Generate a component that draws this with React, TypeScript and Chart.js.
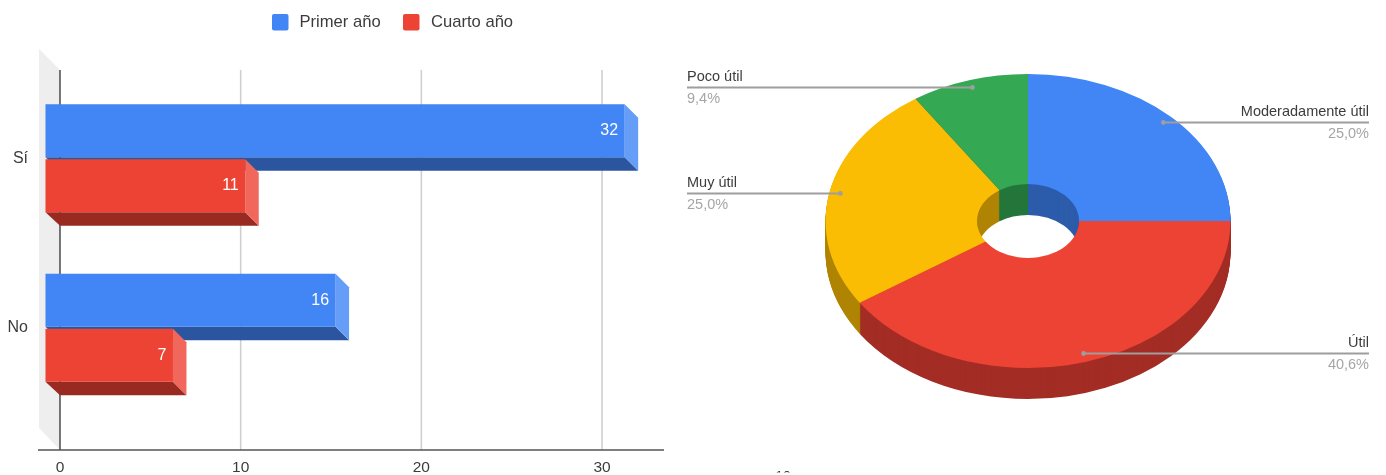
import React, { useEffect, useRef } from "react";
import { Chart, registerables } from "chart.js";

Chart.register(...registerables);

// ---- bar chart data
const answers = ["Sí", "No"];
const primerAno = [32, 16];
const cuartoAno = [11, 7];
const xTicks = [0, 10, 20, 30];

// ---- pie chart data
const usefulness = ["Moderadamente útil", "Útil", "Muy útil", "Poco útil"];
const usefulnessCounts = [8, 13, 8, 3];

const BLUE = "#4285F4";
const RED = "#EC4335";
const YELLOW = "#FBBC04";
const GREEN = "#34A853";
const pieColors = [BLUE, RED, YELLOW, GREEN];
const pieSideColors = ["#2C5CAA", "#A32D25", "#B08403", "#24763A"];
const barSide: Record<string, string> = { [BLUE]: "#669DF6", [RED]: "#F1675C" };
const barUnder: Record<string, string> = { [BLUE]: "#2B569F", [RED]: "#992A22" };

const FONT = "'Liberation Sans', Arial, sans-serif";
const TEXT = "#3c3c3c";
const DEPTH = 13.5;

const barDepthPlugin = {
  id: "barDepth",
  beforeDatasetsDraw(chart: any) {
    const { ctx, chartArea, scales } = chart;
    const x = scales.x;
    const zero = x.getPixelForValue(0);
    const top = 70;
    const bottom = 450;
    ctx.save();
    // side wall
    ctx.fillStyle = "#eeeeee";
    ctx.beginPath();
    ctx.moveTo(zero, top);
    ctx.lineTo(39, 49);
    ctx.lineTo(39, 428);
    ctx.lineTo(zero, bottom);
    ctx.closePath();
    ctx.fill();
    // grid lines
    xTicks.forEach((v) => {
      const px = x.getPixelForValue(v);
      ctx.strokeStyle = v === 0 ? "#555555" : "#cfcfcf";
      ctx.lineWidth = 1.6;
      ctx.beginPath();
      ctx.moveTo(px, top);
      ctx.lineTo(px, bottom);
      ctx.stroke();
    });
    // floor line
    ctx.strokeStyle = "#555555";
    ctx.lineWidth = 1.6;
    ctx.beginPath();
    ctx.moveTo(chartArea.left, bottom);
    ctx.lineTo(chartArea.right, bottom);
    ctx.stroke();
    ctx.restore();
  },
  beforeDatasetDraw() {
    return false;
  },
  afterDatasetsDraw(chart: any) {
    const { ctx } = chart;
    ctx.save();
    chart.data.datasets.forEach((ds: any, i: number) => {
      const color = ds.backgroundColor;
      chart.getDatasetMeta(i).data.forEach((el: any, j: number) => {
        const { x, y, base, height } = el.getProps(["x", "y", "base", "height"]);
        const t = y - height / 2;
        const b = y + height / 2;
        const l = base - DEPTH - 1;
        const r = x - DEPTH;
        // underside
        ctx.fillStyle = barUnder[color];
        ctx.beginPath();
        ctx.moveTo(l, b);
        ctx.lineTo(r, b);
        ctx.lineTo(x, b + DEPTH);
        ctx.lineTo(base, b + DEPTH);
        ctx.closePath();
        ctx.fill();
        // end
        ctx.fillStyle = barSide[color];
        ctx.beginPath();
        ctx.moveTo(r, t);
        ctx.lineTo(x, t + DEPTH);
        ctx.lineTo(x, b + DEPTH);
        ctx.lineTo(r, b);
        ctx.closePath();
        ctx.fill();
        // front
        ctx.fillStyle = color;
        ctx.fillRect(l, t, r - l, b - t);
        // value
        ctx.fillStyle = "#ffffff";
        ctx.font = `16px ${FONT}`;
        ctx.textAlign = "right";
        ctx.textBaseline = "middle";
        ctx.fillText(String(ds.data[j]), r - 6.5, y);
      });
    });
    // legend
    ctx.font = `16.6px ${FONT}`;
    ctx.textAlign = "left";
    ctx.textBaseline = "middle";
    const boxX = [272, 403];
    const textX = [299.5, 431];
    chart.data.datasets.forEach((ds: any, i: number) => {
      ctx.fillStyle = ds.backgroundColor;
      ctx.beginPath();
      ctx.roundRect(boxX[i], 14, 16.5, 16.5, 2);
      ctx.fill();
      ctx.fillStyle = TEXT;
      ctx.fillText(ds.label, textX[i], 22.5);
    });
    ctx.restore();
  },
};

const SQUASH = 147 / 202.5;
const PIE_DEPTH = 31;

const pie3dPlugin = {
  id: "pie3d",
  beforeDatasetDraw() {
    return false;
  },
  afterDatasetsDraw(chart: any) {
    const { ctx } = chart;
    const arcs = chart.getDatasetMeta(0).data;
    const drawLayer = (d: number, colors: string[]) => {
      arcs.forEach((arc: any, i: number) => {
        const p = arc.getProps(["x", "y", "startAngle", "endAngle", "innerRadius", "outerRadius"]);
        ctx.save();
        ctx.translate(p.x, p.y + d);
        ctx.scale(1, SQUASH);
        ctx.fillStyle = colors[i];
        ctx.beginPath();
        ctx.arc(0, 0, p.outerRadius, p.startAngle, p.endAngle);
        ctx.arc(0, 0, p.innerRadius, p.endAngle, p.startAngle, true);
        ctx.closePath();
        ctx.fill();
        ctx.restore();
      });
    };
    for (let d = PIE_DEPTH; d > 0; d--) drawLayer(d, pieSideColors);
    drawLayer(0, pieColors);

    // callouts
    const total = usefulnessCounts.reduce((a, b) => a + b, 0);
    const width = chart.width;
    arcs.forEach((arc: any, i: number) => {
      const p = arc.getProps(["x", "y", "startAngle", "endAngle", "outerRadius"]);
      const mid = (p.startAngle + p.endAngle) / 2;
      const dotX = p.x + Math.cos(mid) * p.outerRadius * 0.945;
      const dotY = p.y + Math.sin(mid) * p.outerRadius * 0.945 * SQUASH - 1;
      const isRight = dotX > p.x;
      const edge = isRight ? width - 17 : 7;
      const lineY = Math.round(dotY) + 0.5;
      ctx.save();
      ctx.strokeStyle = "#9e9e9e";
      ctx.lineWidth = 1.8;
      ctx.beginPath();
      ctx.moveTo(dotX, lineY);
      ctx.lineTo(edge, lineY);
      ctx.stroke();
      ctx.fillStyle = "#9e9e9e";
      ctx.beginPath();
      ctx.arc(dotX, lineY, 2.4, 0, Math.PI * 2);
      ctx.fill();
      ctx.textAlign = isRight ? "right" : "left";
      ctx.textBaseline = "middle";
      ctx.font = `14.5px ${FONT}`;
      ctx.fillStyle = TEXT;
      ctx.fillText(usefulness[i], edge, lineY - 10.5);
      ctx.fillStyle = "#a6a6a6";
      const pct = ((usefulnessCounts[i] / total) * 100).toFixed(1).replace(".", ",") + "%";
      ctx.fillText(pct, edge, lineY + 11.5);
      ctx.restore();
    });

    // clipped tick label at the bottom edge of the picture
    ctx.save();
    ctx.beginPath();
    ctx.rect(0, 468, chart.width, 4.5);
    ctx.clip();
    ctx.font = `14px ${FONT}`;
    ctx.fillStyle = "#333333";
    ctx.textAlign = "center";
    ctx.textBaseline = "top";
    ctx.fillText("10", 103, 470);
    ctx.restore();
  },
};

export default function App() {
  const barRef = useRef<HTMLCanvasElement>(null);
  const pieRef = useRef<HTMLCanvasElement>(null);

  useEffect(() => {
    const bar = new Chart(barRef.current as HTMLCanvasElement, {
      type: "bar",
      data: {
        labels: answers,
        datasets: [
          { label: "Primer año", data: primerAno, backgroundColor: BLUE },
          { label: "Cuarto año", data: cuartoAno, backgroundColor: RED },
        ],
      },
      options: {
        indexAxis: "y",
        animation: false,
        responsive: false,
        events: [],
        categoryPercentage: 0.649,
        barPercentage: 0.9636,
        layout: { padding: { top: 73.5, right: 16, left: 0, bottom: 0 } },
        plugins: { legend: { display: false }, tooltip: { enabled: false } },
        scales: {
          x: {
            type: "linear",
            min: -1.217,
            max: 33.43,
            grid: { display: false, drawTicks: false },
            border: { display: false },
            afterBuildTicks: (s: any) => {
              s.ticks = xTicks.map((value) => ({ value }));
            },
            afterFit: (s: any) => {
              s.height = 62.5;
            },
            ticks: {
              padding: 46,
              maxRotation: 0,
              autoSkip: false,
              color: TEXT,
              font: { family: FONT, size: 15.5 },
            },
          },
          y: {
            type: "category",
            grid: { display: false, drawTicks: false },
            border: { display: false },
            afterFit: (s: any) => {
              s.width = 38;
            },
            ticks: { padding: 10, color: TEXT, font: { family: FONT, size: 16 } },
          },
        },
      } as any,
      plugins: [barDepthPlugin as any],
    });

    const pie = new Chart(pieRef.current as HTMLCanvasElement, {
      type: "doughnut",
      data: {
        labels: usefulness,
        datasets: [
          {
            data: usefulnessCounts,
            backgroundColor: pieColors,
            borderWidth: 0,
            hoverOffset: 0,
          },
        ],
      },
      options: {
        animation: false,
        responsive: false,
        events: [],
        cutout: "25.2%",
        layout: { padding: { left: 145.5, right: 155.5, top: 18.5, bottom: 51.5 } },
        plugins: { legend: { display: false }, tooltip: { enabled: false } },
      } as any,
      plugins: [pie3dPlugin as any],
    });

    return () => {
      bar.destroy();
      pie.destroy();
    };
  }, []);

  return (
    <div
      style={{
        position: "fixed",
        left: 0,
        top: 0,
        width: 1386,
        height: 475,
        background: "#ffffff",
        overflow: "hidden",
        filter: "blur(0.5px)",
      }}
    >
      <canvas ref={barRef} width={680} height={475} style={{ position: "absolute", left: 0, top: 0 }} />
      <canvas ref={pieRef} width={706} height={475} style={{ position: "absolute", left: 680, top: 0 }} />
    </div>
  );
}
